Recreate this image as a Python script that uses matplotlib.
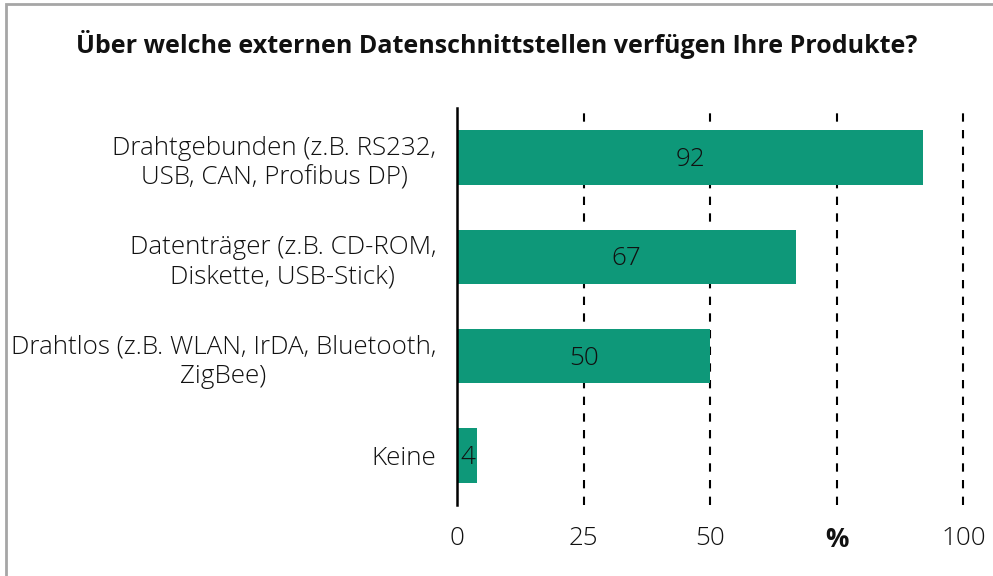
import matplotlib
matplotlib.use("Agg")
from matplotlib import pyplot as plt
from matplotlib.patches import Rectangle

categories = [
    "Drahtgebunden (z.B. RS232,\nUSB, CAN, Profibus DP)",
    "Datenträger (z.B. CD-ROM,\nDiskette, USB-Stick)",
    "Drahtlos (z.B. WLAN, IrDA, Bluetooth,\nZigBee)",
    "Keine",
]
values = [92, 67, 50, 4]
tick_values = [0, 25, 50, 75, 100]
tick_labels = ["0", "25", "50", "%", "100"]
title = "Über welche externen Datenschnittstellen verfügen Ihre Produkte?"

plt.rcParams["font.family"] = ["Open Sans", "DejaVu Sans"]
bar_color = "#0e9879"
fs = 18.7

fig = plt.figure(figsize=(9.93, 5.76), dpi=100)
ax = fig.add_axes([0.4602, 0.1233, 0.5126, 0.6892])

ypos = list(range(len(categories)))
bars = ax.barh(ypos, values, height=0.55, color=bar_color, zorder=3)
for rect, v in zip(bars, values):
    if v > 10:
        ax.text(v / 2, rect.get_y() + rect.get_height() / 2 + 0.02, str(v), ha="center", va="center",
                fontsize=fs, fontweight="light", color="#111111", zorder=4)
    else:
        ax.text(0.6, rect.get_y() + rect.get_height() / 2 + 0.02, str(v), ha="left", va="center",
                fontsize=fs, fontweight="light", color="#111111", zorder=4)

ax.set_xlim(0, 100.5)
ax.set_ylim(3.5, -0.5)
ax.set_yticks(ypos)
ax.set_yticklabels(categories, fontsize=fs, fontweight="light", color="#111111", linespacing=1.25)
for lbl in ax.get_yticklabels():
    lbl.set_multialignment("center")
ax.set_xticks(tick_values)
ax.set_xticklabels(tick_labels, fontsize=fs, fontweight="light", color="#111111")
for lbl in ax.get_xticklabels():
    if lbl.get_text() == "%":
        lbl.set_fontweight("bold")
ax.tick_params(axis="both", length=0)
ax.tick_params(axis="x", pad=15)
ax.tick_params(axis="y", pad=15)

for x in tick_values[1:]:
    ax.axvline(x, color="black", linestyle=(0, (4, 4)), linewidth=1.5, zorder=1)

for side in ["top", "right", "bottom"]:
    ax.spines[side].set_visible(False)
ax.spines["left"].set_linewidth(1.8)
ax.spines["left"].set_zorder(5)

fig.text(0.5, 0.922, title, ha="center", va="center", fontsize=18, fontweight="bold", color="#111111")

fig.patches.append(Rectangle((6 / 993, -0.1), 1.2, 1 - 4 / 576 + 0.1, transform=fig.transFigure,
                             fill=False, edgecolor="#a6a6a6", linewidth=2))

fig.savefig("out.png", dpi=100)
